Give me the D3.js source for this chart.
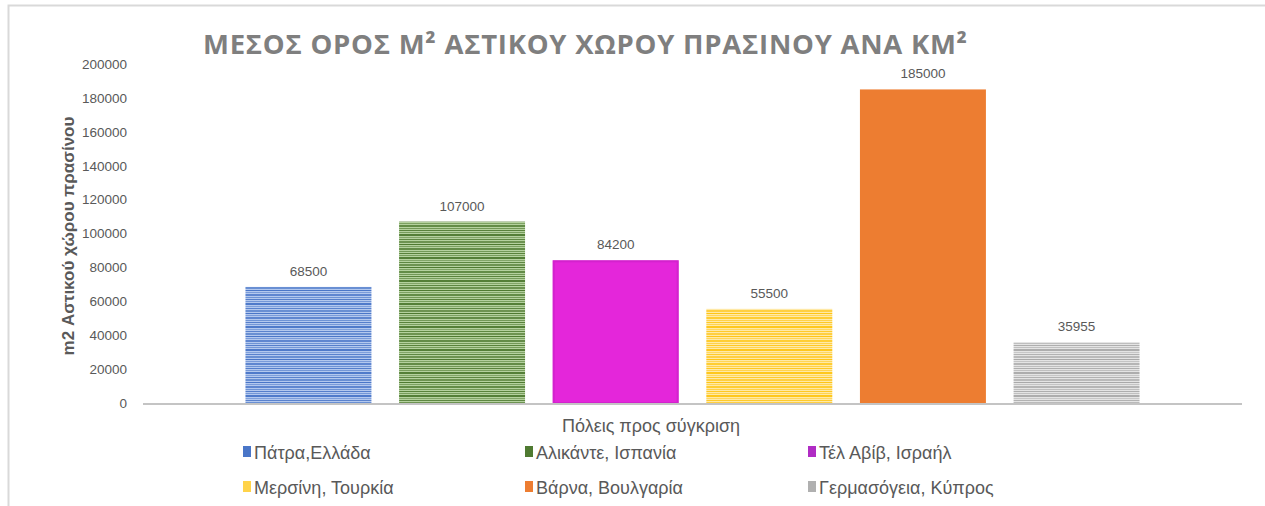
<!DOCTYPE html>
<meta charset="utf-8">
<style>
body { margin: 0; background: #fff; overflow: hidden; }
text { font-family: "Liberation Sans", Arial, sans-serif; fill: #595959; }
.title { font-family: "Open Sans", sans-serif; font-weight: 700; fill: #7f7f7f; }
</style>
<svg width="1265" height="506"></svg>
<script src="https://cdn.jsdelivr.net/npm/d3@7"></script>
<script>

const cities = ["Πάτρα,Ελλάδα", "Αλικάντε, Ισπανία", "Τέλ Αβίβ, Ισραήλ",
                "Μερσίνη, Τουρκία", "Βάρνα, Βουλγαρία", "Γερμασόγεια, Κύπρος"];
const values = [68500, 107000, 84200, 55500, 185000, 35955];
const yTicks = [0, 20000, 40000, 60000, 80000, 100000, 120000, 140000, 160000, 180000, 200000];
const baseColours = ["#4a76c8", "#4f7a31", "#e426da", "#ffc515", "#ed7d31", "#a9a9a9"];
const lightColours = ["#b3c8ee", "#b4d19e", null, "#ffe9a6", null, "#e4e4e4"];
const legendColours = ["#4a76c8", "#4f7a31", "#b02cc4", "#ffd34a", "#ed7d31", "#b0b0b0"];

const titleText = "ΜΕΣΟΣ ΟΡΟΣ Μ² ΑΣΤΙΚΟΥ ΧΩΡΟΥ ΠΡΑΣΙΝΟΥ ΑΝΑ ΚΜ²";
const xTitle = "Πόλεις προς σύγκριση";
const yTitle = "m2 Αστικού χώρου πρασίνου";

const plot = {left: 143, right: 1242, top: 64, bottom: 403};

const svg = d3.select("svg");

// chart frame
svg.append("rect")
  .attr("x", 8.5).attr("y", 5.5)
  .attr("width", 1270).attr("height", 520)
  .attr("fill", "#fff").attr("stroke", "#d9d9d9").attr("stroke-width", 2);

// striped fills, imitating the textured bars
const defs = svg.append("defs");
const stripeRows = [[0,1,0.9],[2,1,0.6],[4,2,0.95],[7,1,0.5],[9,1,0.85],[11,2,0.7],[14,1,1],[16,1,0.55],[18,2,0.8],[21,1,0.65]];
baseColours.forEach((c, i) => {
  if (!lightColours[i]) return;
  const p = defs.append("pattern")
    .attr("id", "stripe" + i)
    .attr("patternUnits", "userSpaceOnUse")
    .attr("width", 10).attr("height", 23);
  p.append("rect").attr("width", 10).attr("height", 23).attr("fill", lightColours[i]);
  stripeRows.forEach(r => {
    p.append("rect").attr("y", r[0]).attr("width", 10).attr("height", r[1])
      .attr("fill", c).attr("opacity", r[2]);
  });
});
function fillFor(i) { return lightColours[i] ? "url(#stripe" + i + ")" : baseColours[i]; }

const y = d3.scaleLinear().domain([0, 200000]).range([plot.bottom, plot.top]);
const x = d3.scaleBand().domain(cities).range([plot.left, plot.right])
  .paddingInner(0.18).paddingOuter(0.667);

// title
svg.append("text").attr("class", "title")
  .attr("x", 585).attr("y", 54)
  .attr("text-anchor", "middle")
  .attr("font-size", 27.5)
  .attr("textLength", 764).attr("lengthAdjust", "spacing")
  .text(titleText);

// y axis labels
const yAxis = svg.append("g")
  .attr("transform", "translate(" + (plot.left - 8) + ",0)")
  .call(d3.axisLeft(y).tickValues(yTicks).tickSize(0).tickPadding(8).tickFormat(d3.format("d")));
yAxis.select(".domain").remove();
yAxis.selectAll("text").attr("font-size", 13.5).attr("fill", "#595959")
  .style("font-family", "'Liberation Sans', Arial, sans-serif");

// bars
svg.append("g").selectAll("rect")
  .data(values)
  .join("rect")
  .attr("x", (d, i) => x(cities[i]))
  .attr("y", d => y(d))
  .attr("width", x.bandwidth())
  .attr("height", d => y(0) - y(d))
  .attr("fill", (d, i) => fillFor(i));

// soft darker edge on the solid magenta bar
svg.append("g").selectAll("rect")
  .data(values.filter((d, i) => i === 2))
  .join("rect")
  .attr("x", x(cities[2]) + 1)
  .attr("y", d => y(d) + 1)
  .attr("width", x.bandwidth() - 2)
  .attr("height", d => y(0) - y(d) - 1)
  .attr("fill", "none").attr("stroke", "#c81fc4").attr("stroke-width", 2).attr("opacity", 0.6);

// value labels
svg.append("g").selectAll("text")
  .data(values)
  .join("text")
  .attr("x", (d, i) => x(cities[i]) + x.bandwidth() / 2)
  .attr("y", d => y(d) - 11)
  .attr("text-anchor", "middle")
  .attr("font-size", 13.5)
  .text(d => d);

// x axis line
svg.append("line")
  .attr("x1", plot.left).attr("x2", plot.right)
  .attr("y1", y(0) + 1).attr("y2", y(0) + 1)
  .attr("stroke", "#c4c4c4").attr("stroke-width", 2);

// axis titles
svg.append("text")
  .attr("x", 651).attr("y", 432)
  .attr("text-anchor", "middle")
  .attr("font-size", 18)
  .text(xTitle);

svg.append("text")
  .attr("transform", "translate(74,236) rotate(-90)")
  .attr("text-anchor", "middle")
  .attr("font-size", 17).attr("font-weight", 700)
  .attr("fill", "#404040")
  .text(yTitle);

// legend
const legendCols = [243, 525, 808];
const legendRows = [452, 487];
const legend = svg.append("g").selectAll("g")
  .data(cities)
  .join("g")
  .attr("transform", (d, i) => "translate(" + legendCols[i % 3] + "," + legendRows[Math.floor(i / 3)] + ")");
legend.append("rect")
  .attr("x", 0).attr("y", -6).attr("width", 8).attr("height", 11)
  .attr("fill", (d, i) => legendColours[i]);
legend.append("text")
  .attr("x", 11).attr("y", 6.5)
  .attr("font-size", 18)
  .text(d => d);

</script>
